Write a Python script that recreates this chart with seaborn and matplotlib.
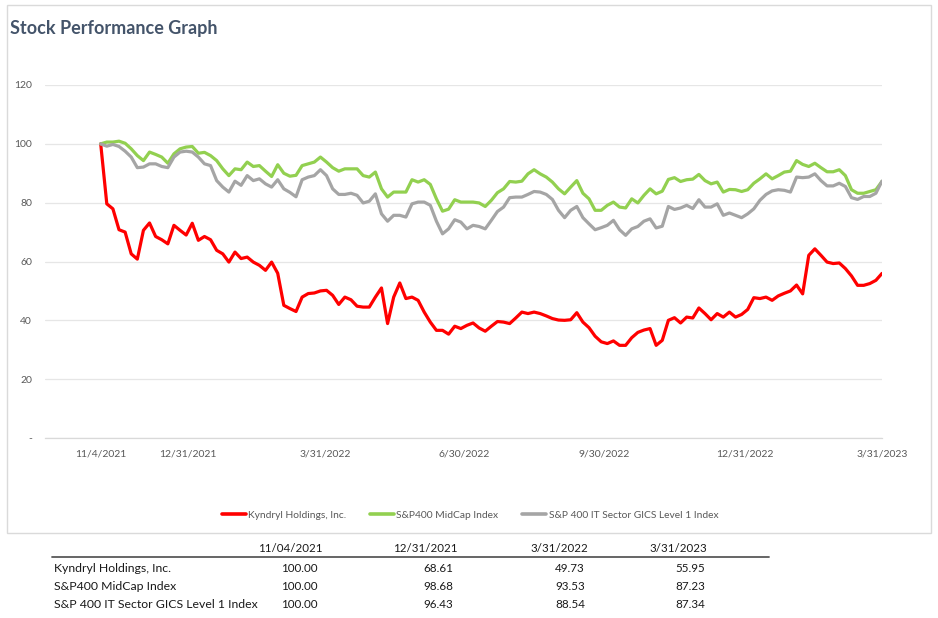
import numpy as np
import pandas as pd
import matplotlib
matplotlib.use("Agg")
import matplotlib.pyplot as plt
from matplotlib.lines import Line2D
from matplotlib.patches import Rectangle
import seaborn as sns

# ---------------- data ----------------
series_names = ["Kyndryl Holdings, Inc.", "S&P400 MidCap Index",
                "S&P 400 IT Sector GICS Level 1 Index"]
series_colors = ["#FF0000", "#92D050", "#A5A5A5"]
start_date = "2021-11-04"
end_date = "2023-03-31"
axis_start = "2021-09-28 12:00"

kyndryl = [100, 79.6, 77.9, 70.8, 70.0, 62.6, 60.8, 70.6, 73.1, 68.5,
           67.4, 66.0, 72.3, 70.6, 69.0, 73.0, 67.2, 68.5, 67.4, 63.8,
           62.6, 59.8, 63.2, 61.0, 61.5, 59.8, 58.7, 57.0, 59.8, 56.0,
           45.1, 44.0, 43.0, 47.9, 49.1, 49.3, 50.0, 50.2, 48.5, 45.4,
           47.9, 47.0, 44.8, 44.5, 44.5, 47.9, 51.0, 38.9, 47.9, 52.7,
           47.4, 47.9, 46.8, 42.8, 39.4, 36.6, 36.6, 35.3, 38.0, 37.2,
           38.3, 39.1, 37.4, 36.3, 38.0, 39.6, 39.4, 38.9, 40.8, 42.8,
           42.3, 42.8, 42.3, 41.5, 40.6, 40.1, 40.0, 40.2, 42.6, 39.4,
           37.5, 34.6, 32.7, 32.1, 33.0, 31.5, 31.5, 34.1, 35.9, 36.7,
           37.2, 31.5, 33.2, 40.0, 40.9, 39.1, 41.1, 40.8, 44.2, 42.3,
           40.2, 42.3, 41.1, 42.8, 41.1, 42.0, 43.7, 47.7, 47.4, 47.9,
           46.8, 48.3, 49.2, 50.0, 52.0, 49.0, 62.1, 64.3, 62.1, 59.8,
           59.3, 59.5, 57.6, 55.1, 51.9, 51.9, 52.5, 53.6, 55.95]

midcap = [100, 100.6, 100.6, 100.9, 100.2, 98.3, 96.0, 94.3, 97.2, 96.4,
          95.5, 93.4, 96.6, 98.3, 98.9, 99.1, 96.8, 97.1, 96.0, 94.3,
          91.5, 89.2, 91.5, 91.2, 93.8, 92.3, 92.6, 90.7, 88.9, 92.9,
          90.0, 89.0, 89.3, 92.6, 93.2, 93.8, 95.5, 93.8, 91.9, 90.7,
          91.5, 91.5, 91.5, 89.2, 88.7, 90.4, 84.7, 81.9, 83.6, 83.6,
          83.6, 87.8, 87.0, 87.8, 86.2, 81.3, 77.1, 77.8, 81.0, 80.2,
          80.2, 80.2, 79.9, 78.7, 80.8, 83.4, 84.7, 87.2, 87.0, 87.3,
          89.8, 91.2, 89.8, 88.7, 87.0, 84.7, 83.0, 85.3, 87.5, 83.2,
          81.3, 77.4, 77.4, 79.1, 80.2, 78.5, 78.2, 81.3, 79.9, 82.5,
          84.7, 83.0, 83.9, 87.9, 88.5, 87.2, 87.8, 88.0, 89.6, 87.5,
          86.4, 87.0, 83.6, 84.5, 84.4, 83.8, 84.4, 86.6, 88.1, 89.8,
          88.1, 89.2, 90.4, 90.7, 94.3, 93.0, 92.3, 93.4, 91.9, 90.5,
          90.5, 91.2, 89.2, 84.4, 83.2, 83.2, 83.8, 84.4, 87.23]

it_sector = [100, 99.2, 99.8, 99.1, 97.5, 95.5, 91.9, 92.1, 93.2, 93.2,
             92.3, 91.9, 95.5, 97.2, 97.5, 97.2, 95.5, 93.2, 92.6, 87.5,
             85.3, 83.6, 87.3, 85.9, 89.2, 87.5, 88.1, 86.4, 85.3, 87.8,
             84.7, 83.5, 82.0, 87.8, 88.7, 89.2, 91.2, 89.2, 84.7, 82.8,
             82.8, 83.2, 82.5, 79.9, 80.5, 83.0, 76.2, 73.7, 75.7, 75.7,
             75.1, 79.6, 80.2, 80.2, 79.1, 73.7, 69.4, 71.1, 74.2, 73.4,
             71.1, 72.3, 71.9, 71.1, 74.0, 77.0, 78.5, 81.7, 81.9, 81.9,
             82.8, 83.8, 83.6, 82.8, 81.1, 77.4, 74.9, 77.4, 78.7, 74.9,
             72.8, 70.8, 71.5, 72.3, 74.0, 70.8, 68.9, 71.1, 71.9, 73.7,
             74.5, 71.4, 72.0, 78.7, 77.7, 78.2, 79.1, 78.0, 81.0, 78.5,
             78.5, 79.6, 75.7, 76.5, 75.7, 74.9, 76.2, 77.9, 80.8, 82.8,
             84.0, 84.4, 84.2, 83.6, 88.7, 88.5, 88.7, 89.8, 87.5, 85.7,
             85.7, 86.6, 85.5, 81.7, 81.1, 82.1, 82.1, 83.2, 87.34]

tick_dates = ["2021-11-04", "2021-12-31", "2022-03-31", "2022-06-30",
              "2022-09-30", "2022-12-31", "2023-03-31"]
tick_labels = ["11/4/2021", "12/31/2021", "3/31/2022", "6/30/2022",
               "9/30/2022", "12/31/2022", "3/31/2023"]
y_ticks = [0, 20, 40, 60, 80, 100, 120]
y_tick_labels = ["-", "20", "40", "60", "80", "100", "120"]

table_cols = ["11/04/2021", "12/31/2021", "3/31/2022", "3/31/2023"]
table_kyndryl = [100.00, 68.61, 49.73, 55.95]
table_midcap = [100.00, 98.68, 93.53, 87.23]
table_it = [100.00, 96.43, 88.54, 87.34]

# ---------------- frame ----------------
sns.set_style("white")
plt.rcParams["font.family"] = ["Lato", "DejaVu Sans"]

W, H = 938, 618
fig = plt.figure(figsize=(W / 100, H / 100), dpi=100)


def fx(px):
    return px / W


def fy(py):
    return 1 - py / H


fig.add_artist(Rectangle((fx(7), fy(533)), fx(931) - fx(7), fy(5) - fy(533),
                         transform=fig.transFigure, fill=False,
                         edgecolor="#DADADA", linewidth=1.0))

fig.text(fx(10), fy(34), "Stock Performance Graph", fontsize=13,
         fontweight="bold", color="#44546A", ha="left", va="baseline")

ax = fig.add_axes([fx(45), fy(438), fx(882) - fx(45), fy(85) - fy(438)])

dates = pd.date_range(start_date, end_date, periods=len(kyndryl))
df = pd.concat([
    pd.DataFrame({"date": dates, "value": vals, "series": name})
    for name, vals in zip(series_names, [kyndryl, midcap, it_sector])
], ignore_index=True)

sns.lineplot(data=df, x="date", y="value", hue="series",
             hue_order=series_names,
             palette=dict(zip(series_names, series_colors)),
             linewidth=2.3, ax=ax, legend=False)

ax.set_xlim(pd.Timestamp(axis_start), pd.Timestamp(end_date))
ax.set_ylim(0, 120)
ax.set_xlabel("")
ax.set_ylabel("")
ax.set_yticks(y_ticks, y_tick_labels)
ax.set_xticks(pd.to_datetime(tick_dates), tick_labels)
ax.set_xticks([pd.Timestamp(axis_start)], minor=True)
ax.grid(axis="y", color="#E6E6E6", linewidth=0.9)
ax.grid(axis="x", visible=False)
ax.set_axisbelow(True)
for s in ["top", "right", "left"]:
    ax.spines[s].set_visible(False)
ax.spines["bottom"].set_color("#D9D9D9")
ax.spines["bottom"].set_linewidth(0.9)
ax.tick_params(axis="y", length=0, pad=9.4, labelsize=7.5,
               labelcolor="#595959")
ax.tick_params(axis="x", which="both", length=4, width=0.9, color="#D9D9D9",
               pad=4, labelsize=7.5, labelcolor="#595959")

handles = [Line2D([], [], color=c, linewidth=2.6) for c in series_colors]
fig.legend(handles, series_names, loc="center",
           bbox_to_anchor=(fx(470), fy(515)), ncol=3, frameon=False,
           fontsize=7.35, labelcolor="#595959", handlelength=2.35,
           handletextpad=0.25, columnspacing=2.3)

# ---------------- table ----------------
hdr_fs = 8.3
lab_fs = 8.85
val_fs = 8.4
col_right_hdr = [323, 458, 588, 707]
col_right_val = [318, 453, 585, 705]
for c, xr in zip(table_cols, col_right_hdr):
    fig.text(fx(xr), fy(549), c, fontsize=hdr_fs, ha="right", va="center",
             color="#1A1A1A")
fig.add_artist(Line2D([fx(52), fx(769)], [fy(557), fy(557)],
                      transform=fig.transFigure, color="#595959",
                      linewidth=1.3))
rows = [table_kyndryl, table_midcap, table_it]
row_y = [568, 586, 604.5]
for name, vals, yy in zip(series_names, rows, row_y):
    fig.text(fx(54), fy(yy), name, fontsize=lab_fs, ha="left", va="center",
             color="#1A1A1A")
    for v, xr in zip(vals, col_right_val):
        fig.text(fx(xr), fy(yy), f"{v:.2f}", fontsize=val_fs, ha="right",
                 va="center", color="#1A1A1A")

fig.savefig("out.png", dpi=100)
